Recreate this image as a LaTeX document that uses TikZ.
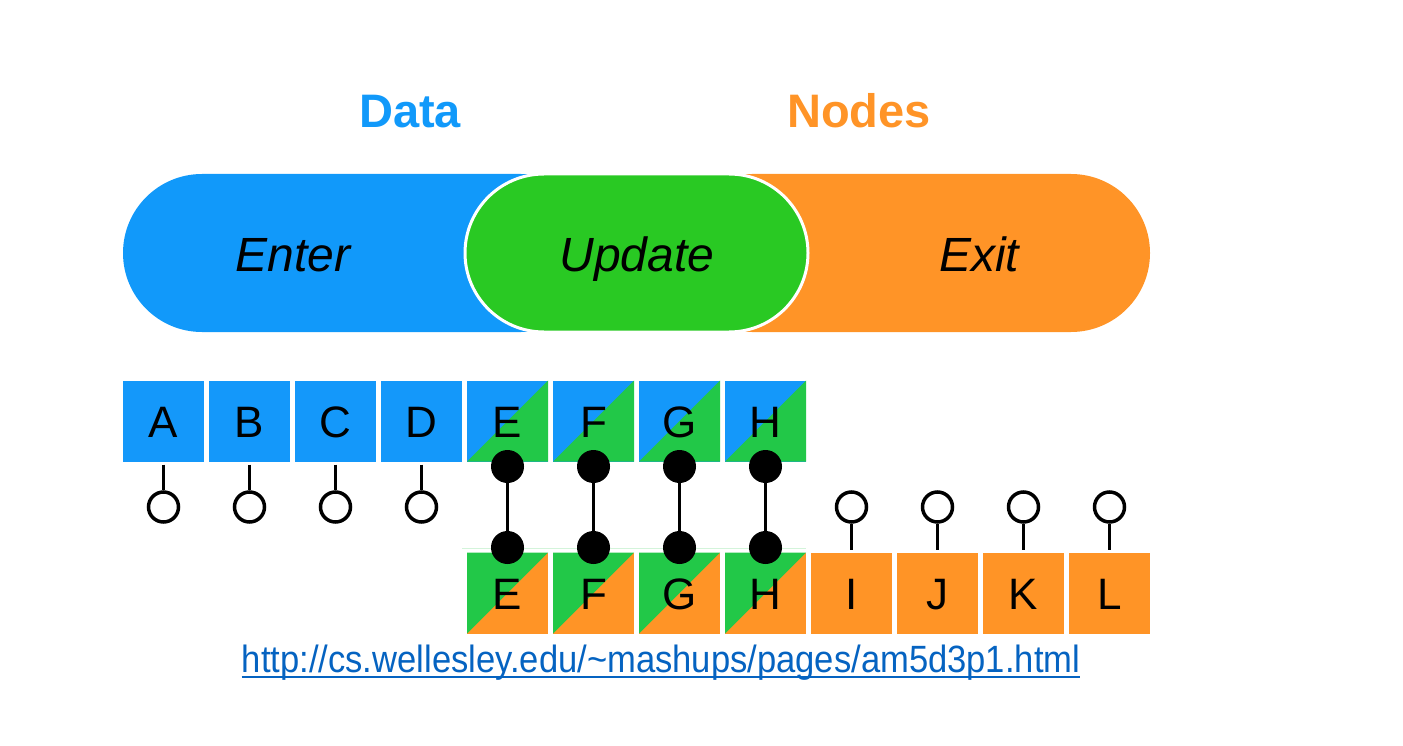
\documentclass[tikz,border=0pt]{standalone}
\usepackage{fontspec}
\setmainfont{Liberation Sans}
\usetikzlibrary{shapes.misc}
\definecolor{blueP}{RGB}{17,153,250}
\definecolor{greenP}{RGB}{41,201,35}
\definecolor{orangeP}{RGB}{255,148,39}
\definecolor{blueS}{RGB}{20,152,250}
\definecolor{greenS}{RGB}{34,200,72}
\definecolor{orangeS}{RGB}{255,148,38}
\definecolor{urlC}{RGB}{5,99,193}
\begin{document}
\begin{tikzpicture}[x=1pt,y=-1pt,
  pill/.style={rounded rectangle, minimum height=158pt, inner sep=0pt, outer sep=0pt},
  plabel/.style={anchor=base, inner sep=0pt, font=\fontsize{48}{48}\selectfont\itshape},
  ttl/.style={anchor=base, inner sep=0pt, font=\fontsize{47}{47}\selectfont\bfseries},
  sq/.style={minimum size=81pt, inner sep=0pt, outer sep=0pt, text height=32pt, text depth=0pt, font=\fontsize{44}{44}\selectfont},
  topsplit/.style={sq, fill=blueS, path picture={\fill[greenS] (path picture bounding box.south west) -- (path picture bounding box.north east) -- (path picture bounding box.south east) -- cycle;}},
  botsplit/.style={sq, fill=orangeS, path picture={\fill[greenS] (path picture bounding box.south west) -- (path picture bounding box.north west) -- (path picture bounding box.north east) -- cycle;}},
  lolly/.style={circle, draw=black, line width=3.5pt, minimum size=30pt, inner sep=0pt, fill=white},
  dot/.style={circle, fill=black, minimum size=33pt, inner sep=0pt},
  stem/.style={draw=black, line width=3.5pt}
]
\useasboundingbox (0,0) rectangle (1403,746);

% titles
\node[ttl, text=blueP] (data) at (410,128) {Data};
\node[ttl, text=orangeP] (nodes) at (859,128) {Nodes};

% pills
\node[pill, fill=blueP, minimum width=477pt] (enterpill) at (361.5,253) {};
\node[pill, fill=orangeP, minimum width=477pt] (exitpill) at (911.5,253) {};
\node[pill, fill=greenP, draw=white, line width=3pt, minimum width=343pt] (updatepill) at (636.5,253) {};
\node[plabel] (enter) at (293,272) {Enter};
\node[plabel] (update) at (637,272) {Update};
\node[plabel] (exit) at (979,272) {Exit};

% top squares
\foreach \l [count=\i from 0] in {A,B,C,D} {
  \node[sq, fill=blueS] (t\l) at (163.5+86*\i,421) {\l};
  \node[lolly] (o\l) at (163.5+86*\i,507) {};
  \draw[stem] ([yshift=-3pt]t\l.south) -- (o\l.north);
}
\foreach \l [count=\i from 4] in {E,F,G,H} {
  \node[topsplit] (t\l) at (163.5+86*\i,421) {\l};
}
% faint line
\draw[greenS!20, line width=1pt] (462,548) -- (806,548);
% bottom squares
\foreach \l [count=\i from 4] in {E,F,G,H} {
  \node[botsplit] (b\l) at (163.5+86*\i,593) {\l};
}
\foreach \l [count=\i from 8] in {I,J,K,L} {
  \node[sq, fill=orangeS] (b\l) at (163.5+86*\i,593) {\l};
  \node[lolly] (o\l) at (163.5+86*\i,507) {};
  \draw[stem] (o\l.south) -- ([yshift=3pt]b\l.north);
}
% matched pairs
\foreach \l in {E,F,G,H} {
  \node[dot] (d\l1) at ([yshift=-5pt]t\l.south) {};
  \node[dot] (d\l2) at ([yshift=5pt]b\l.north) {};
  \draw[stem] (d\l1) -- (d\l2);
}

% url
\node[anchor=base, inner sep=0pt, text=urlC, xscale=0.91, font=\fontsize{38}{38}\selectfont] (url) at (661,672) {http://cs.wellesley.edu/\textasciitilde mashups/pages/am5d3p1.html};
\draw[urlC, line width=1.5pt] ([yshift=-5pt]url.base west) -- ([yshift=-5pt]url.base east);
\end{tikzpicture}
\end{document}
